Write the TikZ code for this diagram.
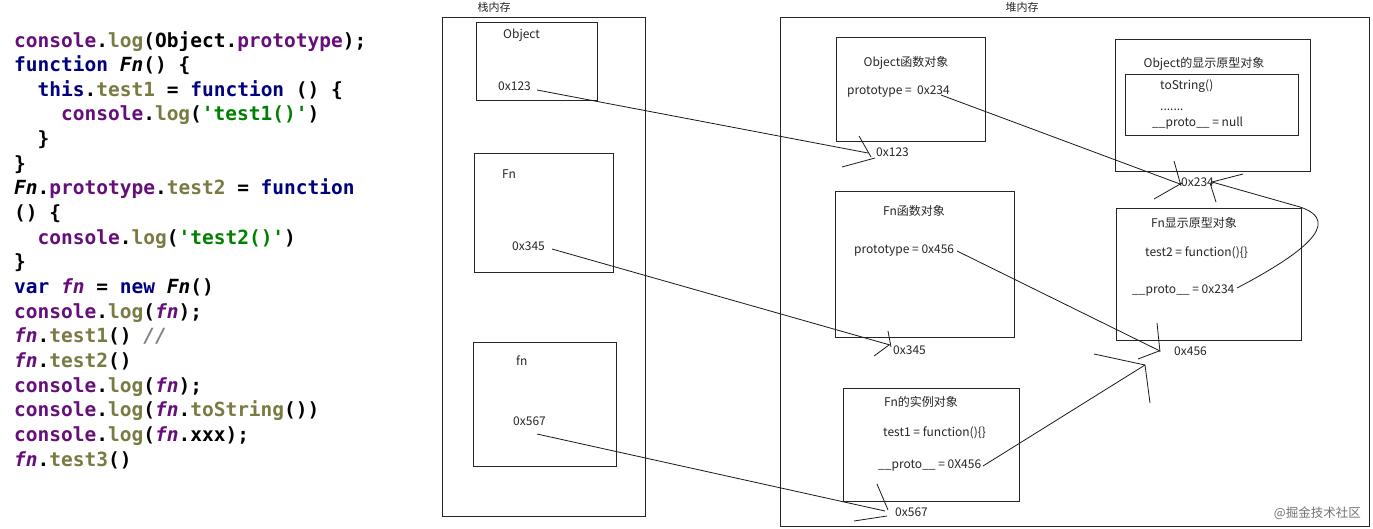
\documentclass[tikz,border=0pt]{standalone}
\usepackage{fontspec}
\setmonofont{DejaVu Sans Mono}
\newfontfamily\cjkf{Noto Sans CJK SC}
\definecolor{jpurple}{HTML}{660E7A}
\definecolor{jolive}{HTML}{7A7A43}
\definecolor{jnavy}{HTML}{000080}
\definecolor{jgreen}{HTML}{008000}
\definecolor{jgray}{HTML}{808080}
\newcommand\jkw[1]{\textcolor{jnavy}{#1}}
\newcommand\jpr[1]{\textcolor{jpurple}{#1}}
\newcommand\jfu[1]{\textcolor{jolive}{#1}}
\newcommand\jst[1]{\textcolor{jgreen}{#1}}
\newcommand\jcm[1]{\textcolor{jgray}{\itshape #1}}
\newcommand\jib[1]{{\itshape #1}}
\newcommand\jip[1]{\textcolor{jpurple}{\itshape #1}}
\newcommand\jq{\char"27}
\tikzset{
  codeline/.style={anchor=base west, inner sep=0pt, font=\ttfamily\bfseries\fontsize{19.5}{20}\selectfont},
  lbl/.style={anchor=base west, inner sep=0pt, text=black!85, font=\cjkf\fontsize{12}{14}\selectfont},
  ttl/.style={anchor=base, inner sep=0pt, text=black!85, font=\cjkf\fontsize{12}{14}\selectfont},
  memlbl/.style={anchor=base, inner sep=0pt, text=black!85, font=\cjkf\fontsize{11}{13}\selectfont},
  membox/.style={draw=black!85, line width=1pt},
  conn/.style={draw=black!90, line width=0.8pt},
}
\begin{document}
\begin{tikzpicture}[x=1pt,y=-1pt]
\useasboundingbox[fill=white] (0,0) rectangle (1373,528);

% ---------------- code ----------------
\node[codeline] (c1) at (14,47) {\jpr{console}.\jfu{log}(Object.\jpr{prototype});};
\node[codeline] (c2) at (14,71.65) {\jkw{function} \jib{Fn}() \{};
\node[codeline] (c3) at (37.5,96.3) {\jkw{this}.\jfu{test1} = \jkw{function} () \{};
\node[codeline] (c4) at (60.9,120.95) {\jpr{console}.\jfu{log}(\jst{\jq test1()\jq})};
\node[codeline] (c5) at (37.5,145.6) {\}};
\node[codeline] (c6) at (14,170.25) {\}};
\node[codeline] (c7) at (14,194.9) {\jib{Fn}.\jpr{prototype}.\jfu{test2} = \jkw{function}};
\node[codeline] (c8) at (14,219.55) {() \{};
\node[codeline] (c9) at (37.5,244.2) {\jpr{console}.\jfu{log}(\jst{\jq test2()\jq})};
\node[codeline] (c10) at (14,268.85) {\}};
\node[codeline] (c11) at (14,293.5) {\jkw{var} \jip{fn} = \jkw{new} \jib{Fn}()};
\node[codeline] (c12) at (14,318.15) {\jpr{console}.\jfu{log}(\jip{fn});};
\node[codeline] (c13) at (14,342.8) {\jip{fn}.\jfu{test1}() \jcm{//}};
\node[codeline] (c14) at (14,367.45) {\jip{fn}.\jfu{test2}()};
\node[codeline] (c15) at (14,392.1) {\jpr{console}.\jfu{log}(\jip{fn});};
\node[codeline] (c16) at (14,416.75) {\jpr{console}.\jfu{log}(\jip{fn}.\jfu{toString}())};
\node[codeline] (c17) at (14,441.4) {\jpr{console}.\jfu{log}(\jip{fn}.xxx);};
\node[codeline] (c18) at (14,466.05) {\jip{fn}.\jfu{test3}()};

% ---------------- stack ----------------
\node[memlbl] (stacklbl) at (494,11) {栈内存};
\draw[membox] (442,17) rectangle (645,516);
\draw[membox] (476,22) rectangle (597,100);
\draw[membox] (474,153) rectangle (613,272);
\draw[membox] (473,342) rectangle (616,466);
\node[lbl] (sObj) at (503,38.5) {Object};
\node[lbl] (s123) at (498,90.5) {0x123};
\node[lbl] (sFn) at (502,178.5) {Fn};
\node[lbl] (s345) at (512,250.5) {0x345};
\node[lbl] (sfn) at (516,365.5) {fn};
\node[lbl] (s567) at (513,425.5) {0x567};

% ---------------- heap ----------------
\node[memlbl] (heaplbl) at (1022,11) {堆内存};
\draw[membox] (780,17) rectangle (1369,526);
\draw[membox] (836,37) rectangle (985,141);
\draw[membox] (1115,39) rectangle (1310,171);
\draw[membox] (1125,74) rectangle (1298,135);
\draw[membox] (835,191) rectangle (1014,337);
\draw[membox] (1116,208) rectangle (1301,340);
\draw[membox] (843,388) rectangle (1019,501);

\node[ttl] (tObjF) at (906,66.5) {Object函数对象};
\node[lbl] (pObj) at (847,94.5) {prototype =\ \ 0x234};
\node[lbl] (h123) at (876,156.5) {0x123};

\node[ttl] (tObjP) at (1204,67.5) {Object的显示原型对象};
\node[lbl] (toStr) at (1160,89.5) {toString()};
\node[lbl] (dots) at (1160,110) {.......};
\node[lbl] (pNull) at (1152,126.5) {\_\_proto\_\_ = null};
\node[lbl] (h234) at (1181,186.5) {0x234};

\node[ttl] (tFnF) at (914,215.5) {Fn函数对象};
\node[lbl] (pFn) at (854,253.5) {prototype = 0x456};
\node[lbl] (h345) at (893,354.5) {0x345};

\node[ttl] (tFnP) at (1194,227.5) {Fn显示原型对象};
\node[lbl] (t2) at (1145,256.5) {test2 = function()\{\}};
\node[lbl] (pFnP) at (1132,293.5) {\_\_proto\_\_ = 0x234};
\node[lbl] (h456) at (1174,355.5) {0x456};

\node[ttl] (tInst) at (921,406.5) {Fn的实例对象};
\node[lbl] (t1) at (883,436.5) {test1 = function()\{\}};
\node[lbl] (pInst) at (878,468.5) {\_\_proto\_\_ = 0X456};
\node[lbl] (h567) at (895,516.5) {0x567};

\node[anchor=base east, inner sep=0pt, text=black!55, font=\cjkf\fontsize{12.5}{14}\selectfont] (wm) at (1361,517) {@掘金技术社区};

% ---------------- connectors ----------------
\coordinate (a1s) at (537,90);   \coordinate (a1t) at (868,153);
\coordinate (a2s) at (552,249);  \coordinate (a2t) at (890,345);
\coordinate (a3s) at (537,434);  \coordinate (a3t) at (885,511);
\coordinate (a4s) at (941,95);   \coordinate (a4t) at (1180,184);
\coordinate (a5s) at (957,251);  \coordinate (a5t) at (1160,351);
\coordinate (a6s) at (983,466);  \coordinate (a6t) at (1145,365);
\coordinate (a7s) at (1237,288); \coordinate (a7m) at (1300,207); \coordinate (a7t) at (1212,182);

\draw[conn] (a1s) -- (a1t);
\draw[conn,shift={(a1t)}] (-9,-17) -- (3,4) (-26,14) -- (7,5);
\draw[conn] (a2s) -- (a2t);
\draw[conn,shift={(a2t)}] (-2,-14) -- (1,2) (-16,11) -- (-1,0);
\draw[conn] (a3s) -- (a3t);
\draw[conn,shift={(a3t)}] (-8,-27) -- (3,-1) (-31,10) -- (2,5);
\draw[conn] (a4s) -- (a4t);
\draw[conn,shift={(a4t)}] (-6,-23) -- (1,2) (-26,15) -- (2,-1);
\draw[conn] (a5s) -- (a5t);
\draw[conn,shift={(a5t)}] (-3,-28) -- (0,1) (-22,8) -- (-1,0);
\draw[conn] (a6s) -- (a6t);
\draw[conn,shift={(a6t)}] (-51,-11) -- (0,0) (5,38) -- (0,0);
\draw[conn] (a7s) .. controls (1300,255) and (1345,222) .. (a7m) -- (a7t);
\draw[conn,shift={(a7t)}] (31,-8) -- (0,0) (4,20) -- (-2,1);
\end{tikzpicture}
\end{document}
